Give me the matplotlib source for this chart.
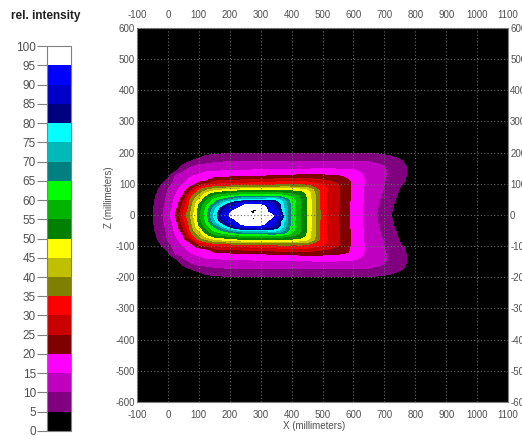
import numpy as np
import matplotlib
matplotlib.use("Agg")
import matplotlib.pyplot as plt
import matplotlib.tri as mtri

plt.rcParams["axes.unicode_minus"] = False

# ─────────────────────────────────────────────────────────────
# Datos (mitad superior, Z >= 0; se refleja)
# ─────────────────────────────────────────────────────────────
x_mm = [-100, -50, -25, 0, 25, 50, 75, 100, 125, 150, 200, 250, 300, 350,
        400, 450, 500, 550, 600, 650, 700, 750, 800, 900]
z_mm = [0, 20, 35, 50, 65, 80, 95, 110, 125, 145, 160, 175, 190, 210, 230]

# intensidad relativa (%) por columna X, de Z=0 hacia arriba
col_m100 = [0, 0, 0, 0, 0, 0, 0, 0, 0, 0, 0, 0, 0, 0, 0]
col_m50 = [4.7, 4.5, 4.3, 4.0, 3.6, 3.2, 2.7, 2.2, 1.6, 0.8, 0.3, 0, 0, 0, 0]
col_m25 = [8.6, 8.3, 8.0, 7.4, 6.7, 5.8, 4.6, 3.0, 1.5, 0.3, 0, 0, 0, 0, 0]
col_0 = [12.9, 12.2, 11.7, 11.2, 10.7, 10.2, 8.5, 6.2, 3.9, 1.5, 0, 0, 0, 0, 0]
col_25 = [20.0, 18.5, 17.3, 16.2, 15.0, 13.8, 12.5, 11.3, 10.1, 3.8, 1.0, 0, 0, 0, 0]
col_50 = [30.4, 28.5, 26.5, 23.8, 20.2, 17.9, 15.7, 13.7, 11.8, 8.7, 5.4, 2.2, 0.5, 0, 0]
col_75 = [41.4, 39.3, 37.7, 36.1, 32.3, 24.3, 19.0, 16.8, 14.5, 11.5, 8.6, 4.5, 1.5, 0, 0]
col_100 = [52.6, 51.5, 49.4, 44.6, 39.8, 35.0, 24.3, 18.5, 16.0, 12.7, 10.3, 6.9, 3.3, 0.5, 0]
col_125 = [63.3, 61.5, 58.5, 54.0, 47.8, 39.4, 30.0, 19.8, 17.3, 13.8, 10.8, 8.0, 5.2, 1.5, 0]
col_150 = [75.9, 73.0, 66.4, 60.5, 53.6, 43.4, 31.9, 24.1, 18.4, 14.1, 11.4, 8.7, 5.8, 1.5, 0]
col_200 = [95.5, 90.0, 82.5, 69.3, 57.5, 46.3, 33.4, 25.4, 18.9, 14.5, 11.9, 9.3, 6.5, 2.5, 0]
col_250 = [99.0, 98.5, 93.5, 75.5, 59.8, 48.5, 34.0, 26.4, 19.3, 14.8, 12.2, 9.6, 6.7, 2.5, 0]
col_300 = [99.0, 98.5, 93.5, 75.5, 59.8, 48.5, 35.0, 27.2, 19.8, 15.0, 12.3, 9.6, 6.7, 2.5, 0]
col_350 = [92.0, 86.5, 84.0, 76.0, 60.8, 48.3, 35.8, 28.0, 20.5, 15.5, 12.5, 9.6, 6.7, 2.5, 0]
col_400 = [63.6, 63.5, 63.2, 62.0, 56.2, 48.3, 35.8, 28.2, 21.0, 15.5, 12.5, 9.6, 6.7, 2.5, 0]
col_450 = [49.6, 49.5, 49.4, 49.2, 48.5, 45.0, 35.0, 28.2, 21.4, 15.5, 12.5, 9.6, 6.7, 2.5, 0]
col_500 = [32.8, 32.7, 32.6, 32.5, 32.4, 32.2, 30.4, 25.7, 21.0, 15.8, 12.7, 9.6, 6.7, 2.5, 0]
col_550 = [25.3, 25.3, 25.4, 25.5, 25.6, 25.6, 25.4, 23.2, 20.2, 15.5, 12.5, 9.6, 6.7, 2.5, 0]
col_600 = [18.3, 18.4, 18.5, 18.6, 18.7, 18.8, 18.8, 18.7, 18.3, 15.0, 12.3, 9.6, 6.7, 2.5, 0]
col_650 = [12.8, 12.9, 13.0, 13.2, 13.3, 13.4, 13.5, 13.5, 13.4, 12.5, 11.2, 9.3, 6.7, 2.5, 0]
col_700 = [7.5, 7.8, 8.2, 8.7, 9.2, 9.6, 9.9, 10.1, 10.4, 10.3, 9.7, 8.0, 5.6, 1.5, 0]
col_750 = [2.5, 2.9, 3.3, 3.8, 4.3, 4.8, 5.3, 6.2, 6.4, 6.5, 6.2, 5.3, 3.5, 1.0, 0]
col_800 = [0, 0.3, 0.7, 1.2, 1.8, 2.4, 2.8, 3.1, 3.3, 3.4, 3.2, 2.5, 1.5, 0.5, 0]
col_900 = [0, 0, 0, 0, 0, 0, 0, 0, 0, 0, 0, 0, 0, 0, 0]

niveles = list(range(0, 101, 5))
colores_banda = [
    "#000000", "#800080", "#C000C0", "#FF00FF",
    "#800000", "#C80000", "#FF0000",
    "#808000", "#C0C000", "#FFFF00",
    "#008000", "#00B400", "#00FF00",
    "#008080", "#00BABA", "#00FFFF",
    "#000080", "#0000C8", "#0000FF",
    "#FFFFFF",
]
ticks_x = list(range(-100, 1101, 100))
ticks_z = list(range(-600, 601, 100))

# ─────────────────────────────────────────────────────────────
# Armado de la malla (reflejo respecto de Z = 0)
# ─────────────────────────────────────────────────────────────
columnas = [col_m100, col_m50, col_m25, col_0, col_25, col_50, col_75, col_100,
            col_125, col_150, col_200, col_250, col_300, col_350, col_400,
            col_450, col_500, col_550, col_600, col_650, col_700, col_750,
            col_800, col_900]
mitad = np.array(columnas).T
z_arr = np.array(z_mm, dtype=float)
Z = np.concatenate([-z_arr[::-1][:-1], z_arr])
I = np.vstack([mitad[::-1][:-1], mitad])
Xg, Zg = np.meshgrid(np.array(x_mm, dtype=float), Z)

# suavizado de las isolíneas con el refinador de matplotlib
tri = mtri.Triangulation(Xg.ravel(), Zg.ravel())
interp = mtri.CubicTriInterpolator(tri, I.ravel(), kind="geom")
refinador = mtri.UniformTriRefiner(tri)
tri_f, I_f = refinador.refine_field(I.ravel(), triinterpolator=interp, subdiv=3)
I_f = np.clip(I_f, 0, 100)

GRIS = "#505050"

fig = plt.figure(figsize=(5.22, 4.42), dpi=100)
fig.patch.set_facecolor("white")

ax = fig.add_axes([0.2625, 0.0905, 0.7107, 0.8462])
ax.set_facecolor("black")
cf = ax.tricontourf(tri_f, I_f, levels=niveles, colors=colores_banda, zorder=1)

ax.set_xlim(-100, 1100)
ax.set_ylim(-600, 600)
ax.set_xticks(ticks_x)
ax.set_yticks(ticks_z)
ax.grid(True, color="#6a6a6a", linestyle=(0, (1, 2)), linewidth=0.8)
ax.set_axisbelow(False)
ax.tick_params(axis="both", length=0, labelsize=7, labelcolor=GRIS,
               top=True, labeltop=True, right=True, labelright=True)
ax.tick_params(axis="x", pad=5.5)
ax.tick_params(axis="y", pad=1.5)
for lado in ax.spines.values():
    lado.set_color("#808080")
    lado.set_linewidth(0.8)
for t in ax.get_xticklabels() + ax.get_yticklabels():
    t.set_family("Liberation Sans")

fig.text(314 / 522, 1 - 426 / 442, "X (millimeters)", ha="center", va="center",
         fontsize=7, color=GRIS, family="Liberation Sans")
fig.text(109 / 522, 1 - 197 / 442, "Z (millimeters)", ha="center", va="center",
         rotation=90, fontsize=7, color=GRIS, family="Liberation Sans")

# barra de colores
cax = fig.add_axes([0.090, 0.0249, 0.046, 0.8710])
cb = fig.colorbar(cf, cax=cax, ticks=niveles)
cax.yaxis.set_ticks_position("left")
cax.tick_params(length=7, width=0.8, color="#808080", labelsize=8.5,
                labelcolor=GRIS, pad=1)
for t in cax.get_yticklabels():
    t.set_family("Liberation Sans")
cb.outline.set_edgecolor("#808080")
cb.outline.set_linewidth(0.8)

fig.text(46 / 522, 1 - 16 / 442, "rel. intensity", ha="center", va="center",
         fontsize=8.5, fontweight="bold", color="#202020", family="Liberation Sans")

plt.savefig("out.png", dpi=100)
plt.close()
